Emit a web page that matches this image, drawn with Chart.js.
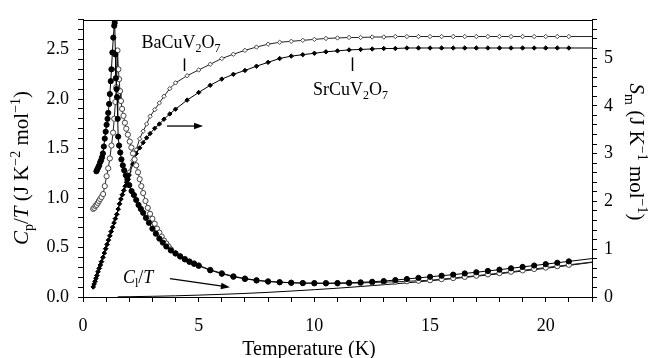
<!DOCTYPE html>
<html>
<head>
<meta charset="utf-8">
<script src="https://cdn.jsdelivr.net/npm/chart.js@4.4.0/dist/chart.umd.min.js"></script>
<style>
  html, body { margin: 0; padding: 0; background: #fff; }
</style>
</head>
<body>
<canvas id="chaleur" width="651" height="358"></canvas>
<script>
// ---------- Données ----------

// Cp/T de SrCuV2O7 (cercles pleins), axe de gauche
const srCpT = [0.58,0.62,0.66,0.70,0.74,0.78,0.82,0.86,0.90,0.94,0.98,1.02,1.06,1.09,1.13,1.16,1.20,1.23,1.27,1.31,
  1.35,1.37,1.40,1.42,1.45,1.47,1.50,1.52,1.56,1.61,1.66,1.72,1.78,1.85,1.92,2.00,2.10,2.20,2.30,2.40,
  2.50,2.60,2.72,2.85,3.00,3.15,3.30,3.45,3.60,3.80,4.00,4.20,4.40,4.60,4.80,
  5.0,5.5,6.0,6.5,7.0,7.5,8.0,8.5,9.0,9.5,10.0,10.5,11.0,11.5,12.0,12.5,13.0,13.5,14.0,14.5,15.0,15.5,
  16.0,16.5,17.0,17.5,18.0,18.5,19.0,19.5,20.0,20.5,21.0,22.0];
const srCp = [1.27,1.29,1.31,1.33,1.36,1.38,1.41,1.45,1.52,1.60,1.67,1.74,1.80,1.86,1.95,2.05,2.18,2.30,2.47,2.62,
  2.74,2.77,2.45,2.21,2.10,2.02,1.80,1.62,1.53,1.46,1.39,1.33,1.28,1.23,1.19,1.13,1.07,1.03,0.98,0.93,
  0.89,0.85,0.80,0.75,0.69,0.64,0.59,0.55,0.51,0.47,0.44,0.41,0.38,0.355,0.335,
  0.315,0.27,0.235,0.205,0.183,0.167,0.156,0.149,0.144,0.141,0.140,0.140,0.141,0.144,0.148,0.154,0.161,0.171,0.182,0.193,0.204,0.215,
  0.226,0.238,0.250,0.263,0.276,0.290,0.304,0.318,0.332,0.346,0.360,0.388];

// Cp/T de BaCuV2O7 (cercles vides), axe de gauche
const baCpT = [0.44,0.49,0.54,0.59,0.64,0.69,0.74,0.80,0.87,0.94,1.02,1.09,1.16,1.23,1.30,1.35,1.40,1.44,1.47,1.49,
  1.53,1.56,1.60,1.64,1.69,1.75,1.81,1.87,1.94,2.02,2.09,2.16,2.23,2.30,2.38,2.45,2.52,2.60,2.70,2.80,
  2.90,3.00,3.10,3.20,3.30,3.40,3.50,3.60,3.70,3.80,4.00,4.20,4.40,4.60,4.80,
  5.0,5.5,6.0,6.5,7.0,7.5,8.0,8.5,9.0,9.5,10.0,10.5,11.0,11.5,12.0,12.5,13.0,13.5,14.0,14.5,15.0,15.5,
  16.0,16.5,17.0,17.5,18.0,18.5,19.0,19.5,20.0,20.5,21.0,22.0];
const baCp = [0.89,0.90,0.92,0.93,0.95,0.97,0.99,1.01,1.04,1.12,1.22,1.30,1.40,1.53,1.66,1.80,1.97,2.12,2.30,2.49,
  2.30,2.20,2.08,1.98,1.90,1.83,1.76,1.70,1.64,1.57,1.51,1.45,1.39,1.33,1.26,1.19,1.12,1.05,0.97,0.90,
  0.84,0.79,0.74,0.69,0.65,0.61,0.57,0.54,0.51,0.48,0.44,0.41,0.385,0.36,0.34,
  0.32,0.275,0.24,0.21,0.187,0.17,0.158,0.15,0.144,0.140,0.138,0.137,0.137,0.139,0.142,0.146,0.150,0.154,0.159,0.164,0.169,0.180,
  0.191,0.203,0.215,0.228,0.241,0.255,0.269,0.283,0.297,0.311,0.325,0.353];

// Contribution du réseau Cl/T (trait seul)
const latT = [1.5,2,3,4,5,6,7,8,9,10,11,12,13,14,15,16,17,18,19,20,21,22];
const latC = [0.002,0.003,0.007,0.012,0.019,0.027,0.036,0.047,0.060,0.074,0.089,0.106,0.124,0.143,0.164,0.186,0.210,0.235,0.262,0.290,0.319,0.350];

// Entropie Sm, axe de droite
const srST = [0.44,0.48,0.52,0.56,0.60,0.65,0.70,0.75,0.80,0.86,0.92,0.98,1.04,1.10,1.16,1.22,1.28,1.34,1.40,1.46,
  1.52,1.58,1.64,1.70,1.76,1.82,1.88,1.94,2.00,2.15,2.30,2.45,2.60,2.75,2.90,3.10,3.30,3.50,3.75,
  4.0,4.5,5.0,5.5,6.0,6.5,7.0,7.5,8.0,8.5,9.0,9.5,10.0,10.5,11.0,11.5,12.0,12.5,13.0,13.5,
  14.0,14.5,15.0,15.5,16.0,16.5,17.0,17.5,18.0,18.5,19.0,19.5,20.0,20.5,21.0,22.0];
const srS = [0.21,0.27,0.33,0.39,0.45,0.53,0.60,0.67,0.74,0.83,0.92,1.01,1.10,1.19,1.28,1.37,1.46,1.55,1.64,1.73,
  1.84,1.95,2.05,2.14,2.23,2.32,2.40,2.46,2.55,2.78,3.00,3.12,3.23,3.33,3.42,3.53,3.62,3.72,3.83,
  3.93,4.12,4.28,4.43,4.56,4.66,4.74,4.83,4.91,4.99,5.04,5.07,5.10,5.13,5.15,5.17,5.18,5.19,5.20,5.20,
  5.21,5.21,5.21,5.21,5.21,5.21,5.21,5.21,5.21,5.21,5.21,5.21,5.21,5.21,5.21,5.21];
const baST = srST;
const baS = [0.21,0.27,0.33,0.39,0.45,0.53,0.60,0.67,0.74,0.83,0.92,1.01,1.10,1.19,1.28,1.37,1.46,1.55,1.64,1.73,
  1.84,1.95,2.05,2.14,2.23,2.32,2.40,2.46,2.62,2.86,3.08,3.31,3.47,3.62,3.78,3.92,4.06,4.20,4.36,
  4.48,4.63,4.75,4.87,4.99,5.08,5.16,5.23,5.29,5.33,5.35,5.37,5.39,5.41,5.42,5.43,5.43,5.44,5.44,5.45,
  5.45,5.45,5.45,5.45,5.45,5.45,5.45,5.45,5.45,5.45,5.45,5.45,5.45,5.45,5.45,5.45];

// Annotations (en unités des axes : T en K, valeur sur l'axe de gauche)
const notes = [
  { parts: [['BaCuV'], ['2', 'sub'], ['O'], ['7', 'sub']], x: 4.24, y: 2.517 },
  { parts: [['SrCuV'], ['2', 'sub'], ['O'], ['7', 'sub']], x: 11.56, y: 2.039 },
  { parts: [['C', 'i'], ['l', 'sub'], ['/'], ['T', 'i']], x: 2.38, y: 0.137 }
];
const marks = [ { x: 4.37, y1: 2.41, y2: 2.283 }, { x: 11.63, y1: 2.42, y2: 2.283 } ];
const arrows = [ { x1: 3.63, y1: 1.727, x2: 5.19, y2: 1.727 }, { x1: 3.76, y1: 0.185, x2: 6.35, y2: 0.098 } ];

// ---------- Fonctions ----------
const serif = '"Liberation Serif", "Times New Roman", serif';
const pts = (xs, ys) => xs.map((x, i) => ({ x: x, y: ys[i] }));
// pas de marqueur sur le dernier point (le trait va jusqu'au bord)
const sansDernier = (r) => (c) => c.dataIndex === c.dataset.data.length - 1 ? 0 : r;

function richText(ctx, parts, x, y, size, angle) {
  ctx.save();
  ctx.translate(x, y);
  ctx.rotate(angle || 0);
  const fontOf = (st) => ((st === 'i') ? 'italic ' : '') + Math.round((st === 'sub' || st === 'sup') ? size * 0.68 : size) + 'px ' + serif;
  let w = 0;
  parts.forEach(p => { ctx.font = fontOf(p[1]); p.w = ctx.measureText(p[0]).width; w += p.w; });
  let cx = -w / 2;
  ctx.fillStyle = '#000';
  ctx.textBaseline = 'alphabetic';
  ctx.textAlign = 'left';
  parts.forEach(p => {
    ctx.font = fontOf(p[1]);
    const dy = p[1] === 'sub' ? size * 0.22 : (p[1] === 'sup' ? -size * 0.4 : 0);
    ctx.fillText(p[0], cx, dy);
    cx += p.w;
  });
  ctx.restore();
}

function fleche(ctx, x1, y1, x2, y2) {
  const a = Math.atan2(y2 - y1, x2 - x1);
  ctx.beginPath();
  ctx.moveTo(x1, y1);
  ctx.lineTo(x2 - 6 * Math.cos(a), y2 - 6 * Math.sin(a));
  ctx.stroke();
  ctx.beginPath();
  ctx.moveTo(x2, y2);
  ctx.lineTo(x2 - 9 * Math.cos(a) + 3.2 * Math.sin(a), y2 - 9 * Math.sin(a) - 3.2 * Math.cos(a));
  ctx.lineTo(x2 - 9 * Math.cos(a) - 3.2 * Math.sin(a), y2 - 9 * Math.sin(a) + 3.2 * Math.cos(a));
  ctx.closePath();
  ctx.fill();
}

const habillage = {
  id: 'habillage',
  afterDraw(chart) {
    const ctx = chart.ctx;
    const a = chart.chartArea;
    const sx = chart.scales.x, sy = chart.scales.yL;
    ctx.save();
    ctx.strokeStyle = '#000';
    ctx.fillStyle = '#000';
    ctx.lineWidth = 1;
    // bord du haut
    ctx.beginPath();
    ctx.moveTo(a.left, Math.round(a.top) + 0.5);
    ctx.lineTo(a.right, Math.round(a.top) + 0.5);
    ctx.stroke();
    // textes
    notes.forEach(n => richText(ctx, n.parts, sx.getPixelForValue(n.x), sy.getPixelForValue(n.y), 18));
    ctx.lineWidth = 1.5;
    marks.forEach(m => {
      const px = Math.round(sx.getPixelForValue(m.x)) + 0.5;
      ctx.beginPath();
      ctx.moveTo(px, sy.getPixelForValue(m.y1));
      ctx.lineTo(px, sy.getPixelForValue(m.y2));
      ctx.stroke();
    });
    ctx.lineWidth = 1.3;
    arrows.forEach(f => fleche(ctx, sx.getPixelForValue(f.x1), sy.getPixelForValue(f.y1), sx.getPixelForValue(f.x2), sy.getPixelForValue(f.y2)));
    // titres des axes
    richText(ctx, [['Temperature (K)']], a.left + 226, a.bottom + 58, 20);
    richText(ctx, [['C', 'i'], ['p', 'sub'], ['/'], ['T', 'i'], [' (J K'], ['\u22122', 'sup'], [' mol'], ['\u22121', 'sup'], [')']],
      28, 168, 21, -Math.PI / 2);
    richText(ctx, [['S', 'i'], ['m', 'sub'], [' (J K'], ['\u22121', 'sup'], [' mol'], ['\u22121', 'sup'], [')']],
      630, 152, 21, Math.PI / 2);
    ctx.restore();
  }
};

const grille = { drawOnChartArea: false, drawTicks: true, tickLength: 5, color: '#000', lineWidth: 1 };
const bord = { display: true, color: '#000', width: 1 };
const police = { family: serif, size: 18 };

new Chart(document.getElementById('chaleur'), {
  type: 'scatter',
  data: {
    datasets: [
      { label: 'SrCuV2O7 Cp/T', data: pts(srCpT, srCp), yAxisID: 'yL', showLine: true,
        borderColor: '#000', borderWidth: 1, pointRadius: sansDernier(2.6), pointBackgroundColor: '#000',
        pointBorderColor: '#000', pointBorderWidth: 1 },
      { label: 'BaCuV2O7 Cp/T', data: pts(baCpT, baCp), yAxisID: 'yL', showLine: true,
        borderColor: '#222', borderWidth: 1, pointRadius: sansDernier(2.6), pointBackgroundColor: '#fff',
        pointBorderColor: '#444', pointBorderWidth: 1 },
      { label: 'Cl/T', data: pts(latT, latC), yAxisID: 'yL', showLine: true,
        borderColor: '#000', borderWidth: 1, pointRadius: 0 },
      { label: 'SrCuV2O7 Sm', data: pts(srST, srS), yAxisID: 'yR', showLine: true,
        borderColor: '#000', borderWidth: 1, pointStyle: 'rectRot', pointRadius: sansDernier(2.2),
        pointBackgroundColor: '#000', pointBorderColor: '#000', pointBorderWidth: 1 },
      { label: 'BaCuV2O7 Sm', data: pts(baST, baS), yAxisID: 'yR', showLine: true,
        borderColor: '#222', borderWidth: 1, pointStyle: 'rectRot', pointRadius: sansDernier(2.2),
        pointBackgroundColor: '#fff', pointBorderColor: '#444', pointBorderWidth: 1 }
    ]
  },
  options: {
    responsive: false,
    devicePixelRatio: 1,
    animation: false,
    layout: { padding: { top: 10, left: 0, right: 0, bottom: 0 } },
    plugins: { legend: { display: false }, tooltip: { enabled: false } },
    scales: {
      x: {
        type: 'linear', position: 'bottom', min: 0, max: 22,
        grid: grille, border: bord,
        ticks: { stepSize: 1, autoSkip: false, maxRotation: 0, padding: 13, color: '#000', font: police,
          callback: (v) => (Math.abs(v % 5) < 1e-6 ? String(Math.round(v)) : '') },
        afterFit: (s) => { s.height = 61; }
      },
      yL: {
        type: 'linear', position: 'left', min: 0, max: 2.8,
        grid: grille, border: bord,
        ticks: { stepSize: 0.1, autoSkip: false, padding: 9, color: '#000', font: police,
          callback: (v) => (Math.abs(v * 2 - Math.round(v * 2)) < 1e-6 ? v.toFixed(1) : '') },
        afterFit: (s) => { s.width = 83; }
      },
      yR: {
        type: 'linear', position: 'right', min: 0, max: 5.8,
        grid: grille, border: bord,
        ticks: { stepSize: 0.2, autoSkip: false, padding: 7, color: '#000', font: police,
          callback: (v) => (Math.abs(v - Math.round(v)) < 1e-6 ? String(Math.round(v)) : '') },
        afterFit: (s) => { s.width = 59; }
      }
    }
  },
  plugins: [habillage]
});
</script>
</body>
</html>
